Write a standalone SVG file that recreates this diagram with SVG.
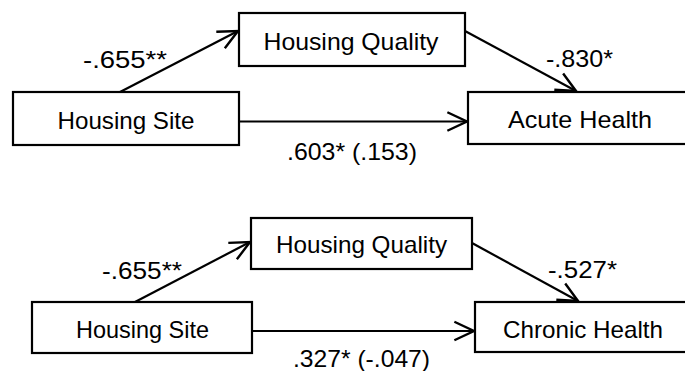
<svg xmlns="http://www.w3.org/2000/svg" width="685" height="371" viewBox="0 0 685 371">
  <style>
    .box { fill: #ffffff; stroke: #000000; stroke-width: 2.2; }
    .lbl { font-family: "Liberation Sans", Arial, sans-serif; font-size: 24px; fill: #000000; text-anchor: middle; }
    .coef { font-family: "Liberation Sans", Arial, sans-serif; font-size: 24px; fill: #000000; }
    .edge { stroke: #000000; stroke-width: 2.2; fill: none; marker-end: url(#arrow); }
  </style>
  <defs>
    <marker id="arrow" markerUnits="userSpaceOnUse" markerWidth="24" markerHeight="24" viewBox="-20 -10 22 20" refX="0" refY="0" orient="auto" overflow="visible">
      <path d="M -18 -8.5 L 0 0 L -18 8.5" fill="none" stroke="#000000" stroke-width="2.2" stroke-linejoin="miter"/>
    </marker>
  </defs>
  <rect width="685" height="371" fill="#ffffff"/>

  <!-- Acute health model -->
  <g id="connectors-acute">
    <line class="edge" x1="120" y1="92" x2="238" y2="31"/>
    <line class="edge" x1="465" y1="31" x2="576" y2="91"/>
    <line class="edge" x1="239" y1="121.5" x2="467" y2="121.5"/>
  </g>
  <g id="site-acute">
    <rect class="box" x="13" y="92" width="226" height="53"/>
    <text class="lbl" x="126" y="129" textLength="137" lengthAdjust="spacingAndGlyphs">Housing Site</text>
  </g>
  <g id="quality-acute">
    <rect class="box" x="239" y="13" width="226" height="53"/>
    <text class="lbl" x="351" y="50" textLength="175" lengthAdjust="spacingAndGlyphs">Housing Quality</text>
  </g>
  <g id="acute-health">
    <rect class="box" x="468" y="92" width="240" height="52"/>
    <text class="lbl" x="580" y="128" textLength="144" lengthAdjust="spacingAndGlyphs">Acute Health</text>
  </g>
  <g id="coefficients-acute">
    <text class="coef" x="83" y="68" textLength="84" lengthAdjust="spacingAndGlyphs">-.655**</text>
    <text class="coef" x="546" y="67" textLength="67" lengthAdjust="spacingAndGlyphs">-.830*</text>
    <text class="coef" x="287" y="160" textLength="130" lengthAdjust="spacingAndGlyphs">.603* (.153)</text>
  </g>

  <!-- Chronic health model -->
  <g id="connectors-chronic">
    <line class="edge" x1="135" y1="302" x2="250" y2="242"/>
    <line class="edge" x1="472" y1="243" x2="578" y2="301"/>
    <line class="edge" x1="252" y1="331" x2="474" y2="331"/>
  </g>
  <g id="site-chronic">
    <rect class="box" x="32" y="302" width="220" height="51"/>
    <text class="lbl" x="142.5" y="338" textLength="133" lengthAdjust="spacingAndGlyphs">Housing Site</text>
  </g>
  <g id="quality-chronic">
    <rect class="box" x="251" y="218" width="221" height="51"/>
    <text class="lbl" x="361.5" y="253" textLength="171" lengthAdjust="spacingAndGlyphs">Housing Quality</text>
  </g>
  <g id="chronic-health">
    <rect class="box" x="475" y="302" width="240" height="50"/>
    <text class="lbl" x="583" y="338" textLength="160" lengthAdjust="spacingAndGlyphs">Chronic Health</text>
  </g>
  <g id="coefficients-chronic">
    <text class="coef" x="102" y="279" textLength="80" lengthAdjust="spacingAndGlyphs">-.655**</text>
    <text class="coef" x="548" y="278" textLength="69" lengthAdjust="spacingAndGlyphs">-.527*</text>
    <text class="coef" x="293" y="367" textLength="137" lengthAdjust="spacingAndGlyphs">.327* (-.047)</text>
  </g>
</svg>
